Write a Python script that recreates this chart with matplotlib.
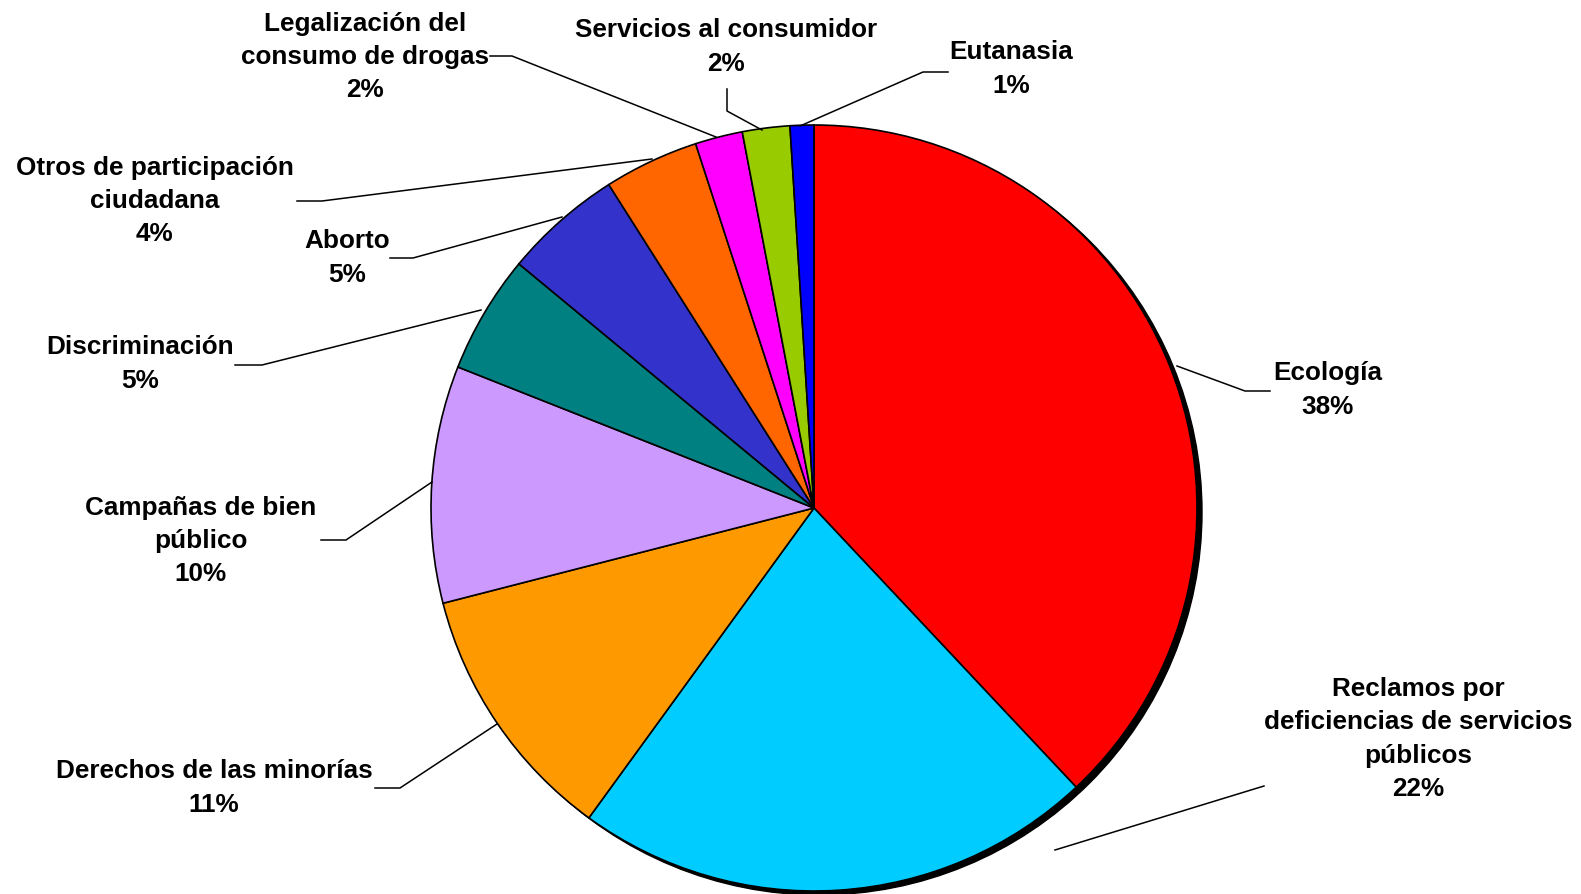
import matplotlib.pyplot as plt
from matplotlib.patches import Circle

W, H = 1581, 895

categories = [
    "Ecología",
    "Reclamos por\ndeficiencias de servicios\npúblicos",
    "Derechos de las minorías",
    "Campañas de bien\npúblico",
    "Discriminación",
    "Aborto",
    "Otros de participación\nciudadana",
    "Legalización del\nconsumo de drogas",
    "Servicios al consumidor",
    "Eutanasia",
]
shares = [38, 22, 11, 10, 5, 5, 4, 2, 2, 1]
colors = ["#FF0000", "#00CCFF", "#FF9900", "#CC99FF", "#008080",
          "#3333CC", "#FF6600", "#FF00FF", "#99CC00", "#0000FF"]

# label centres and leader paths, in pixel coords (y measured from the top)
label_pos = [(1328, 390), (1418, 739), (214, 788), (201, 541), (140, 364),
             (347, 258), (155, 201), (365, 57), (726, 47), (1011, 69)]
leaders = [
    [(1177, 367), (1245, 392), (1270, 392)],
    [(1055, 851), (1264, 787)],
    [(497, 725), (400, 789), (375, 789)],
    [(432, 483), (346, 541), (321, 541)],
    [(481, 311), (262, 366), (235, 366)],
    [(562, 218), (413, 259), (390, 259)],
    [(652, 160), (322, 202), (297, 202)],
    [(716, 138), (512, 57), (490, 57)],
    [(762, 131), (727, 112), (727, 90)],
    [(800, 127), (923, 73), (948, 73)],
]

cx, cy, r = 814, 509, 383

plt.rcParams['font.family'] = ['Liberation Sans', 'DejaVu Sans']

fig = plt.figure(figsize=(W / 100, H / 100), dpi=100)
ax = fig.add_axes([0, 0, 1, 1])

# shadow behind the pie
ax.add_patch(Circle((cx + 5, H - cy - 4), r, color='black', zorder=1))

ax.pie(shares, colors=colors, startangle=90, counterclock=False,
       center=(cx, H - cy), radius=r, frame=True,
       wedgeprops=dict(edgecolor='black', linewidth=1.2, zorder=2))
ax.set_xlim(0, W)
ax.set_ylim(0, H)
ax.set_aspect('equal')
ax.axis('off')

for name, v, (tx, ty), path in zip(categories, shares, label_pos, leaders):
    ax.text(tx, H - ty, f"{name}\n{v}%", ha='center', va='center',
            multialignment='center', fontsize=18.8, fontweight='bold',
            linespacing=1.48, zorder=5)
    xs = [p[0] for p in path]
    ys = [H - p[1] for p in path]
    ax.plot(xs, ys, color='black', linewidth=1.1, zorder=4)

fig.savefig('out.png', dpi=100)
